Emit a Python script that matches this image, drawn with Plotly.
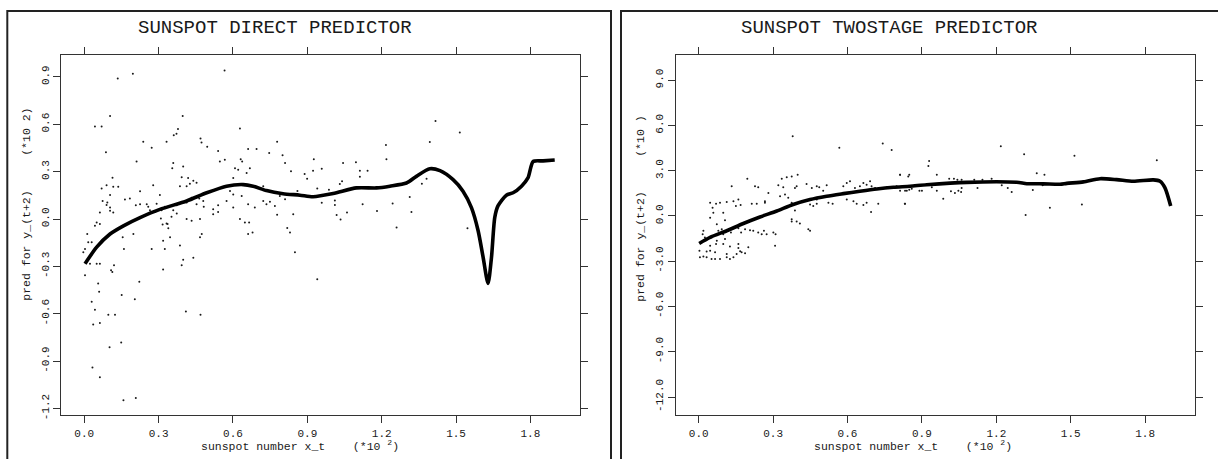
import plotly.graph_objects as go

# ---------------- data ----------------
x_ticks = [0.0, 0.3, 0.6, 0.9, 1.2, 1.5, 1.8]
x_ticklabels = ["0.0", "0.3", "0.6", "0.9", "1.2", "1.5", "1.8"]
left_yticks = [-1.2, -0.9, -0.6, -0.3, 0.0, 0.3, 0.6, 0.9]
left_yticklabels = ["-1.2", "-0.9", "-0.6", "-0.3", "0.0", "0.3", "0.6", "0.9"]
right_yticks = [-12.0, -9.0, -6.0, -3.0, 0.0, 3.0, 6.0, 9.0]
right_yticklabels = ["-12.0", "-9.0", "-6.0", "-3.0", "0.0", "3.0", "6.0", "9.0"]

left_title = "SUNSPOT DIRECT PREDICTOR"
right_title = "SUNSPOT TWOSTAGE PREDICTOR"

left_curve_x = [0.003, 0.05, 0.104, 0.158, 0.225, 0.305, 0.413, 0.494, 0.574, 0.641, 0.681,
                0.735, 0.802, 0.870, 0.923, 1.004, 1.098, 1.179, 1.233, 1.300, 1.340, 1.394,
                1.435, 1.488, 1.528, 1.562, 1.589, 1.609, 1.629, 1.643, 1.656, 1.669, 1.703,
                1.730, 1.764, 1.790, 1.811, 1.851, 1.898]
left_curve_y = [-0.283, -0.178, -0.095, -0.043, 0.009, 0.061, 0.114, 0.166, 0.208, 0.218, 0.208,
                0.180, 0.160, 0.151, 0.141, 0.161, 0.197, 0.197, 0.208, 0.228, 0.270, 0.318,
                0.306, 0.249, 0.176, 0.072, -0.074, -0.241, -0.408, -0.241, 0.009, 0.083, 0.151,
                0.166, 0.208, 0.260, 0.364, 0.368, 0.374]

left_pts_x = [0.104, 0.397, 0.043, 0.070, 0.628, 0.378, 0.372, 0.361, 0.469, 0.473, 0.496, 0.540,
              0.238, 0.272, 0.332, 0.0875, 0.661, 0.695, 0.778, 0.631, 0.637, 0.668, 0.655, 0.601,
              0.608, 0.621, 0.547, 0.567, 0.800, 0.810, 0.834, 0.746, 0.211, 0.359, 0.355, 0.399,
              0.419, 0.426, 0.440, 0.413, 0.453, 0.433, 0.393, 0.386, 0.114, 0.070, 0.090, 0.117,
              0.137, 0.104, 0.278, 0.164, 0.184, 0.225, 0.208, 0.225, 0.252, 0.292, 0.305, 0.312,
              0.325, 0.265, 0.285, 0.258, 0.464, 0.480, 0.482, 0.520, 0.540, 0.540, 0.453, 0.413,
              0.433, 0.343, 0.359, 0.373, 0.332, 0.352, 0.373, 0.309, 0.316, 0.336, 0.339, 0.090,
              0.093, 0.104, 0.117, 0.104, 0.074, 0.063, 0.050, 0.063, 0.043, 0.012, 0.030, 0.016,
              0.003, -0.004, 0.003, 0.050, 0.063, 0.023, 0.056, 0.060, 0.030, 0.043, 0.036, 0.063,
              0.097, 0.124, 0.151, 0.204, 0.222, 0.113, 0.120, 0.108, 0.160, 0.198, 0.155, 0.272,
              0.325, 0.318, 0.399, 0.440, 0.393, 0.410, 0.469, 0.318, 0.346, 0.386, 0.474, 0.467,
              0.413, 0.433, 0.467, 0.520, 0.628, 0.648, 0.665, 0.661, 0.679, 0.688, 0.661, 0.635,
              0.601, 0.588, 0.735, 0.769, 0.778, 0.819, 0.830, 0.850, 0.810, 0.843, 0.860, 0.789,
              0.695, 0.722, 0.722, 0.749, 0.601, 0.574,
              0.135, 0.196, 0.566,
              0.102, 0.149, 0.033, 0.063, 0.158, 0.208,
              1.417, 1.515, 1.394, 1.217, 1.219, 0.926, 0.889, 0.899, 0.923, 0.958, 1.044, 1.096,
              1.112, 1.143, 1.112, 1.031, 1.040, 0.940, 0.987, 1.011, 1.011, 0.958, 1.018, 1.034,
              1.060, 1.123, 1.181, 1.244, 1.260, 1.313, 1.320, 1.362, 1.381, 1.546, 0.940]
left_pts_y = [0.652, 0.652, 0.585, 0.585, 0.573, 0.570, 0.540, 0.530, 0.510, 0.485, 0.458, 0.431,
              0.489, 0.451, 0.489, 0.422, 0.443, 0.443, 0.489, 0.379, 0.364, 0.322, 0.291, 0.260,
              0.322, 0.312, 0.364, 0.375, 0.403, 0.355, 0.302, 0.418, 0.364, 0.354, 0.322, 0.333,
              0.260, 0.223, 0.243, 0.208, 0.229, 0.135, 0.264, 0.208, 0.262, 0.193, 0.214, 0.204,
              0.204, 0.152, 0.214, 0.124, 0.130, 0.176, 0.087, 0.093, 0.093, 0.097, 0.152, 0.056,
              0.077, 0.056, 0.045, 0.077, 0.130, 0.114, 0.077, 0.031, 0.045, 0.087, 0.093, 0.104,
              0.124, 0.081, 0.056, 0.035, -0.028, 0.014, 0.087, 0.004, -0.034, -0.032, -0.059, 0.089,
              0.104, 0.073, 0.042, 0.052, 0.114, 0.042, -0.022, -0.032, -0.043, -0.095, -0.147, -0.147,
              -0.189, -0.210, -0.356, -0.283, -0.283, -0.283, -0.408, -0.460, -0.523, -0.574, -0.668, -0.658,
              -0.606, -0.606, -0.481, -0.508, -0.397, -0.335, -0.293, -0.324, -0.189, -0.095, -0.116, -0.189,
              -0.189, -0.320, -0.258, -0.245, -0.293, -0.585, -0.606, -0.137, -0.116, -0.168, -0.095, -0.116,
              0.000, -0.011, 0.000, 0.062, 0.000, -0.022, -0.022, -0.095, -0.085, 0.073, 0.093, 0.146,
              0.156, 0.177, 0.093, 0.083, 0.027, -0.057, -0.085, -0.210, 0.125, 0.031, 0.177, 0.146,
              0.198, 0.208, 0.114, 0.110, 0.073, 0.114,
              0.890, 0.920, 0.940,
              -0.811, -0.782, -0.939, -1.001, -1.147, -1.132,
              0.621, 0.548, 0.487, 0.468, 0.379, 0.379, 0.285, 0.255, 0.305, 0.318, 0.354, 0.360,
              0.305, 0.305, 0.268, 0.222, 0.239, 0.193, 0.186, 0.118, 0.089, 0.103, 0.026, -0.003,
              0.041, 0.093, 0.051, 0.099, -0.053, 0.139, 0.045, 0.224, 0.255, -0.059, -0.381]

right_curve_x = [0.002, 0.046, 0.113, 0.180, 0.247, 0.315, 0.381, 0.449, 0.516, 0.583, 0.650,
                 0.718, 0.785, 0.852, 0.919, 1.081, 1.282, 1.323, 1.390, 1.457, 1.484, 1.551,
                 1.618, 1.685, 1.752, 1.833, 1.860, 1.880, 1.903]
right_curve_y = [-1.82, -1.42, -0.98, -0.50, -0.07, 0.33, 0.76, 1.09, 1.31, 1.48, 1.64,
                 1.79, 1.90, 1.97, 2.07, 2.23, 2.23, 2.14, 2.13, 2.10, 2.16, 2.26,
                 2.47, 2.41, 2.30, 2.39, 2.30, 1.86, 0.66]

right_pts_x = [0.379, 0.567, 0.742, 0.778, 0.196, 0.133, 0.227, 0.240, 0.335, 0.355, 0.375, 0.399,
               0.321, 0.341, 0.395, 0.435, 0.046, 0.070, 0.086, 0.113, 0.140, 0.160, 0.169, 0.150,
               0.056, 0.059, 0.099, 0.106, 0.046, 0.073, 0.214, 0.234, 0.267, 0.281, 0.267, 0.328,
               0.348, 0.361, 0.375, 0.422, 0.449, 0.462, 0.476, 0.476, 0.502, 0.523, 0.540, 0.583,
               0.597, 0.610, 0.630, 0.650, 0.664, 0.677, 0.691, 0.697, 0.711, 0.728, 0.758, 0.798,
               0.812, 0.845, 0.839, 0.597, 0.624, 0.637, 0.664, 0.677, 0.695, 0.724, 0.832, 0.516,
               0.486, 0.476, 0.456, 0.388, 0.361, 0.388, 0.375, 0.395, 0.408, 0.442, 0.449, 0.375,
               0.207, 0.220, 0.240, 0.263, 0.274, 0.301, 0.310, 0.254, 0.187, 0.160, 0.171, 0.130,
               0.106, 0.099, 0.079, 0.093, 0.019, 0.016, 0.025, 0.308, 0.003, 0.005, 0.019, 0.032,
               0.046, 0.032, 0.052, 0.066, 0.086, 0.113, 0.126, 0.140, 0.153, 0.167, 0.173, 0.187,
               0.200, 0.113, 0.066, 0.046, 0.070, 0.099, 0.106, 0.126, 0.160, 0.160, 0.052, 0.073,
               1.218, 1.312, 1.515, 1.847, 0.929, 0.926, 0.812, 0.849, 0.960, 1.010, 1.029, 1.043,
               1.060, 1.111, 1.144, 1.181, 1.363, 1.394, 0.812, 0.832, 0.849, 0.859, 0.890, 0.900,
               0.940, 0.960, 0.986, 1.017, 1.033, 1.047, 1.058, 1.060, 1.124, 1.222, 1.246, 1.262,
               1.347, 1.387, 0.831, 1.416, 1.545, 1.318]
right_pts_y = [5.29, 4.52, 4.81, 4.37, 2.47, 1.97, 1.97, 1.90, 2.47, 2.56, 2.62, 2.73,
               2.03, 1.90, 1.97, 2.12, 0.87, 0.81, 0.87, 0.92, 0.98, 1.09, 0.72, 0.66,
               0.54, 0.22, 0.22, -0.29, -0.11, -0.55, 0.81, 0.81, 0.87, 1.53, 0.98, 1.31,
               1.42, 1.20, 0.87, 0.98, 0.76, 0.66, 1.09, 0.81, 1.68, 0.87, 0.81, 1.97,
               2.18, 2.30, 1.86, 1.97, 2.18, 2.07, 2.30, 1.97, 1.86, 1.86, 1.90, 1.97,
               2.73, 2.62, 1.68, 1.09, 0.98, 0.81, 0.72, 0.87, 0.26, 0.81, 0.81, 2.03,
               1.90, 1.97, 1.86, 1.86, 0.66, 0.37, -0.22, -0.37, -0.50, -0.88, -0.98, -0.37,
               -0.94, -0.98, -1.10, -0.98, -1.21, -1.10, -1.21, -1.21, -0.88, -0.81, -1.10, -1.10,
               -0.98, -1.21, -0.98, -0.88, -0.98, -1.21, -1.42, -1.97, -2.30, -2.73, -2.69, -2.36,
               -2.30, -2.73, -2.85, -2.85, -2.85, -2.73, -2.85, -2.73, -2.52, -2.33, -2.41, -2.47,
               -2.08, -2.52, -2.41, -1.97, -1.86, -1.86, -1.53, -2.03, -2.12, -1.86, -1.42, -1.64,
               4.63, 4.09, 4.00, 3.69, 3.65, 3.32, 2.73, 2.73, 2.73, 2.47, 2.47, 2.40,
               2.40, 2.40, 2.40, 2.47, 2.84, 2.73, 1.68, 1.68, 1.74, 1.81, 1.68, 1.68,
               1.90, 1.68, 1.15, 1.64, 1.53, 1.68, 1.59, 1.86, 1.86, 2.03, 1.86, 1.59,
               1.72, 2.03, 0.81, 0.54, 0.76, 0.07]

# ---------------- figure ----------------
W, H = 1218, 459
MONO = "Courier New, Liberation Mono, monospace"
INK = "#1a1a1a"
AX = "#333333"

fig = go.Figure()
fig.add_trace(go.Scatter(x=left_pts_x, y=left_pts_y, mode="markers",
                         marker=dict(size=2, color=INK), xaxis="x", yaxis="y", showlegend=False))
fig.add_trace(go.Scatter(x=left_curve_x, y=left_curve_y, mode="lines",
                         line=dict(color="black", width=3.6, shape="spline", smoothing=0.7),
                         xaxis="x", yaxis="y", showlegend=False))
fig.add_trace(go.Scatter(x=right_pts_x, y=right_pts_y, mode="markers",
                         marker=dict(size=2, color=INK), xaxis="x2", yaxis="y2", showlegend=False))
fig.add_trace(go.Scatter(x=right_curve_x, y=right_curve_y, mode="lines",
                         line=dict(color="black", width=3.6, shape="spline", smoothing=0.7),
                         xaxis="x2", yaxis="y2", showlegend=False))

def px_x(p):
    return p / W

def px_y(p):
    return 1 - p / H

axis_common = dict(showline=True, linecolor=AX, linewidth=1, mirror="ticks", ticks="outside",
                   ticklen=7, tickcolor=AX, tickwidth=1, showgrid=False, zeroline=False,
                   tickfont=dict(family=MONO, size=11, color=INK), tickmode="array")

ydom = [px_y(420), px_y(55.3)]
fig.update_layout(
    width=W, height=H, margin=dict(l=0, r=0, t=0, b=0),
    paper_bgcolor="white", plot_bgcolor="white", showlegend=False,
    xaxis=dict(domain=[px_x(61.3), px_x(580)], range=[-0.0927, 2.0], anchor="y",
               tickvals=x_ticks, ticktext=x_ticklabels, **axis_common),
    yaxis=dict(domain=ydom, range=[-1.243, 1.040], anchor="x",
               tickvals=left_yticks, ticktext=left_yticklabels, tickangle=-90, **axis_common),
    xaxis2=dict(domain=[px_x(675.7), px_x(1195)], range=[-0.0927, 2.001], anchor="y2",
                tickvals=x_ticks, ticktext=x_ticklabels, **axis_common),
    yaxis2=dict(domain=ydom, range=[-13.22, 10.69], anchor="x2",
                tickvals=right_yticks, ticktext=right_yticklabels, tickangle=-90, **axis_common),
)

# outer frames
fig.add_shape(type="rect", xref="paper", yref="paper", x0=px_x(7.3), x1=px_x(611),
              y0=px_y(470), y1=px_y(11), line=dict(color="#222222", width=2))
fig.add_shape(type="rect", xref="paper", yref="paper", x0=px_x(621), x1=px_x(1230),
              y0=px_y(470), y1=px_y(11), line=dict(color="#222222", width=2))

sp = "\u00a0"
annots = [
    dict(text=left_title, x=px_x(275), y=px_y(28), size=19, angle=0),
    dict(text=right_title, x=px_x(889), y=px_y(28), size=19, angle=0),
    dict(text="sunspot number x_t" + sp * 4 + "(*10" + sp + "<sup>2</sup>)", x=px_x(300), y=px_y(450), size=11.5, angle=0),
    dict(text="sunspot number x_t" + sp * 4 + "(*10" + sp + "<sup>2</sup>)", x=px_x(913), y=px_y(450), size=11.5, angle=0),
    dict(text="pred for y_(t+2)" + sp * 5 + "(*10" + sp + "2)", x=px_x(27), y=px_y(207), size=11.5, angle=-90),
    dict(text="pred for y_(t+2)" + sp * 5 + "(*10" + sp + ")", x=px_x(641), y=px_y(211), size=11.5, angle=-90),
]
for a in annots:
    fig.add_annotation(text=a["text"], x=a["x"], y=a["y"], xref="paper", yref="paper",
                       xanchor="center", yanchor="middle", showarrow=False, textangle=a["angle"],
                       font=dict(family=MONO, size=a["size"], color=INK))

fig.write_html("out.html")
